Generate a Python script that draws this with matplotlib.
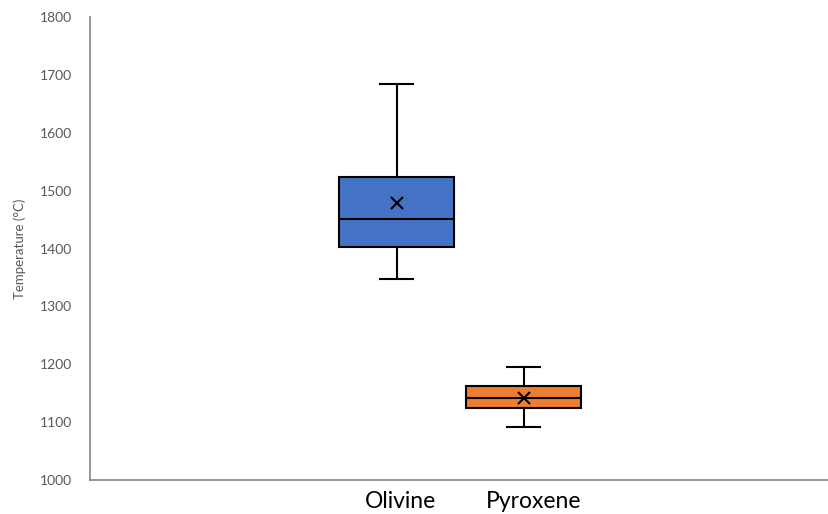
import matplotlib
matplotlib.use("Agg")
import matplotlib.pyplot as plt

plt.rcParams['font.family'] = ['Lato', 'DejaVu Sans']

minerals = ['Olivine', 'Pyroxene']
whislo = [1347, 1092]
q1 = [1402, 1124]
med = [1451, 1142]
q3 = [1523, 1162]
whishi = [1685, 1195]
means = [1478, 1141]
colors = ['#4472C4', '#ED7D31']
positions = [0.415, 0.587]

stats = []
for i, name in enumerate(minerals):
    stats.append(dict(label=name, whislo=whislo[i], q1=q1[i], med=med[i],
                      q3=q3[i], whishi=whishi[i], mean=means[i], fliers=[]))

fig = plt.figure(figsize=(8.29, 5.14), dpi=100)
ax = fig.add_axes([0.1086, 0.0661, 0.8914, 0.9008])

bp = ax.bxp(stats, positions=positions, widths=0.156, capwidths=0.045,
            showmeans=True, patch_artist=True,
            boxprops=dict(edgecolor='black', linewidth=1.5),
            medianprops=dict(color='black', linewidth=1.5),
            whiskerprops=dict(color='black', linewidth=1.5),
            capprops=dict(color='black', linewidth=1.5),
            meanprops=dict(marker='x', markeredgecolor='black', markersize=9,
                           markeredgewidth=1.5))
for patch, c in zip(bp['boxes'], colors):
    patch.set_facecolor(c)

ax.set_xlim(0, 1)
ax.set_ylim(1000, 1800)
ax.set_yticks(range(1000, 1801, 100))
ax.set_xticks([])
ax.tick_params(axis='y', length=0, pad=13, labelsize=10, labelcolor='#595959')
for s in ['top', 'right']:
    ax.spines[s].set_visible(False)
for s in ['left', 'bottom']:
    ax.spines[s].set_color('#868686')
    ax.spines[s].set_linewidth(1.2)

ax.set_ylabel('Temperature (°C)', fontsize=9.5, color='#595959', labelpad=10)

label_x = [0.420, 0.600]
for x, name in zip(label_x, minerals):
    ax.text(x, -0.047, name, transform=ax.get_xaxis_transform(),
            ha='center', va='center', fontsize=16.5, color='black')

fig.savefig('out.png', dpi=100)
